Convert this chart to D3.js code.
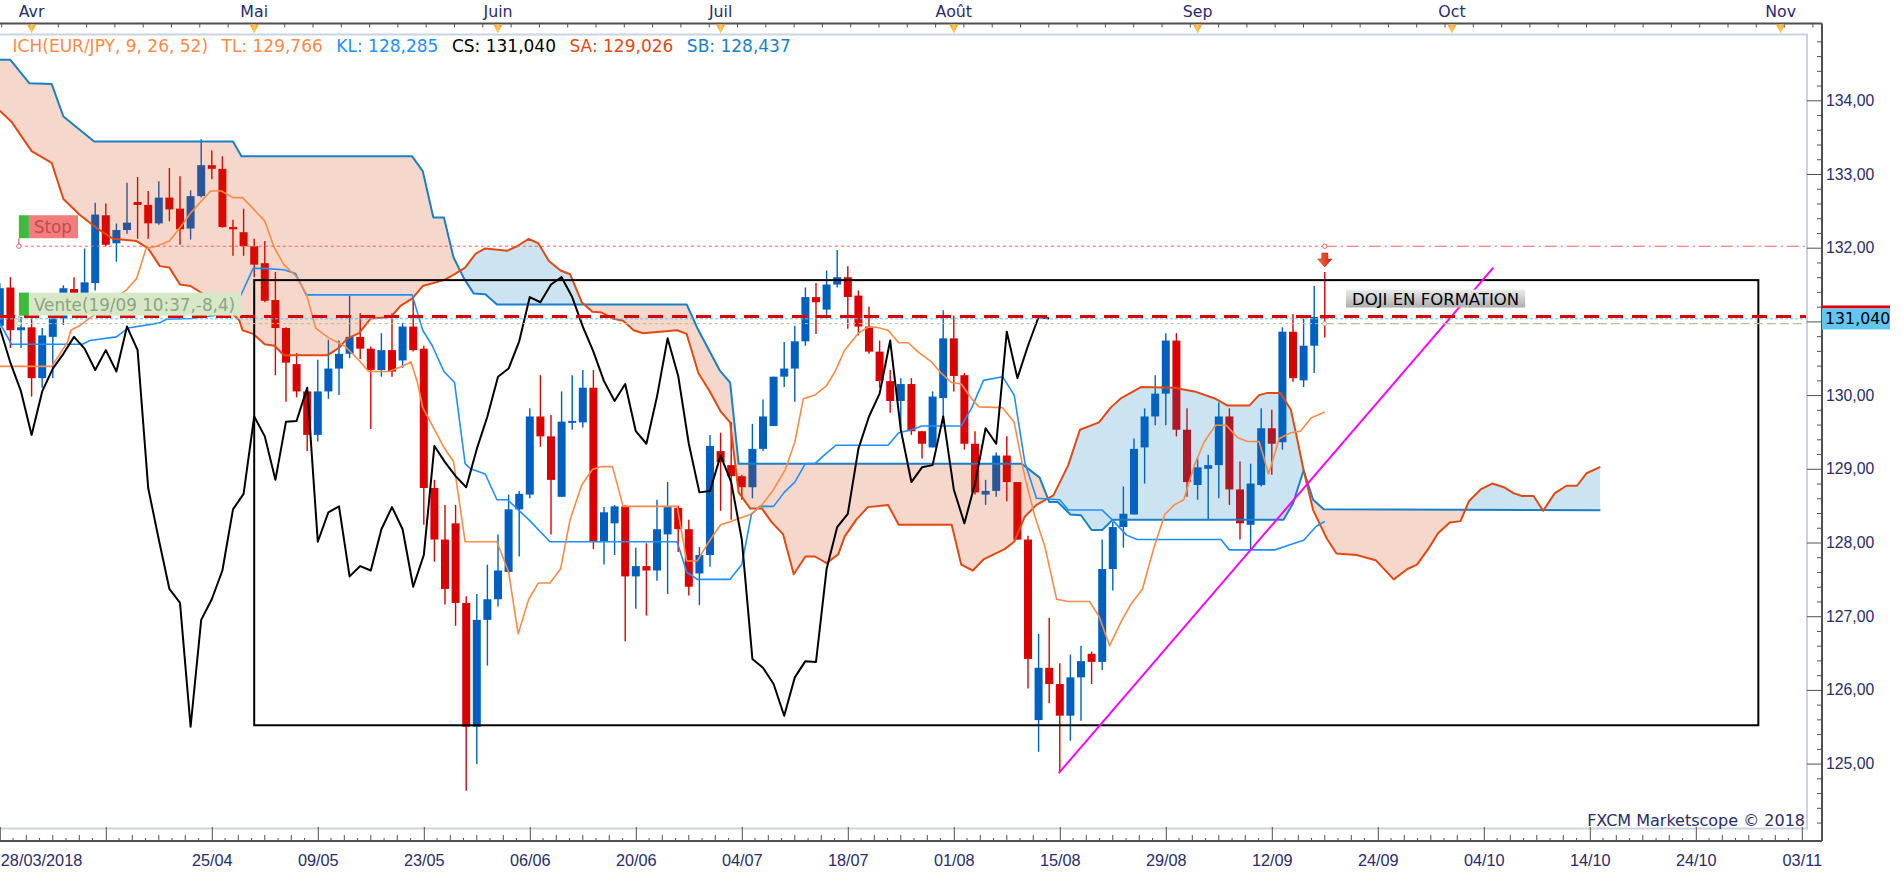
<!DOCTYPE html>
<html>
<head>
<meta charset="utf-8">
<script src="https://cdn.jsdelivr.net/npm/d3@7"></script>
<style>
  body { margin: 0; background: #fff; }
  svg { display: block; font-family: 'DejaVu Sans', Verdana, sans-serif; }
</style>
</head>
<body>
<div id="chart"></div>
<script>
// daily EUR/JPY candles, 28/03/2018 -> 19/09/2018 (bar index 0..125)
let opens = [130.94,131.46,130.88,130.92,130.23,130.79,131.04,131.44,131.30,131.52,
  132.44,132.06,132.24,132.62,132.58,132.33,132.68,132.53,132.26,132.70,
  133.12,133.07,132.28,132.21,132.02,131.79,131.29,130.91,130.42,130.05,
  129.46,130.05,130.36,130.56,130.79,130.63,130.34,130.61,130.47,130.93,
  130.63,128.74,128.04,128.26,127.18,125.50,126.95,127.23,127.60,128.45,
  128.65,129.71,129.44,128.62,129.64,129.63,130.10,128.01,128.26,128.49,
  127.54,127.68,127.62,128.11,128.47,128.18,127.58,127.83,129.24,129.05,
  128.90,128.75,129.27,129.58,130.25,130.36,130.73,131.33,131.16,131.50,
  131.60,131.35,130.93,130.59,130.19,129.92,130.15,129.51,129.29,129.96,
  130.77,130.27,129.34,128.65,128.70,129.18,128.82,128.04,125.59,126.30,
  126.08,125.65,126.17,126.49,126.38,127.64,128.21,128.38,129.29,129.71,
  130.02,130.74,129.53,128.78,129.00,129.05,129.71,128.72,128.24,128.78,
  129.55,129.36,130.86,130.20,130.67,131.07];
let highs = [131.52,131.60,131.06,131.04,130.91,131.15,131.49,131.60,131.99,132.61,
  132.60,132.33,132.88,132.96,132.77,132.90,133.08,132.97,132.78,133.47,
  133.32,133.24,132.38,132.53,132.12,132.09,131.67,130.92,130.57,130.11,
  130.48,130.75,130.74,131.35,131.11,130.66,130.84,131.11,130.98,131.31,
  130.67,128.85,128.51,128.51,127.27,127.30,127.70,128.11,128.65,128.70,
  129.82,130.27,129.73,130.05,130.27,130.34,130.34,128.48,128.51,128.51,
  127.93,127.99,128.58,128.82,128.50,128.31,127.94,129.46,129.49,129.63,
  128.92,129.61,129.94,130.25,130.72,130.94,131.46,131.52,131.69,131.97,
  131.75,131.42,131.20,130.74,130.34,130.23,130.23,129.51,130.05,131.15,
  131.08,130.30,129.51,128.85,129.22,129.44,128.82,128.09,126.76,126.98,
  126.36,126.48,126.60,126.52,128.04,128.28,128.76,129.41,129.82,130.27,
  130.84,130.84,129.82,129.14,129.19,129.90,129.82,129.10,129.07,129.82,
  129.80,130.92,131.10,131.04,131.48,131.67];
let lows = [130.85,130.64,130.64,129.98,130.10,130.23,130.95,131.15,131.20,131.42,
  132.02,131.81,132.19,132.12,132.12,132.31,132.36,132.04,132.11,132.68,
  132.93,132.27,131.89,131.89,131.60,131.26,130.27,129.91,129.97,129.24,
  129.37,129.95,130.00,130.50,130.49,129.54,130.25,130.25,130.37,130.59,
  128.24,127.74,127.16,126.87,124.63,124.99,126.33,127.13,127.59,127.81,
  128.60,129.30,128.11,128.62,129.53,129.56,127.91,127.70,127.83,126.66,
  127.10,127.01,127.48,127.30,127.87,127.28,127.15,127.67,128.43,128.31,
  128.58,128.60,129.24,129.58,130.11,129.91,130.67,130.83,131.08,131.46,
  130.90,130.81,130.56,130.10,129.76,129.56,129.46,129.14,129.29,129.70,
  130.05,129.26,128.65,128.51,128.62,128.56,128.04,126.02,125.16,125.82,
  124.89,125.31,125.58,126.08,126.27,127.35,127.93,128.38,128.80,129.59,
  129.59,129.44,128.62,128.58,128.31,128.60,128.51,128.04,127.91,128.76,
  128.92,129.26,130.18,130.11,130.30,130.78];
let closes = [131.45,130.88,130.92,130.23,130.81,131.04,131.45,131.30,131.53,132.45,
  132.04,132.24,132.34,132.58,132.33,132.68,132.52,132.25,132.70,133.12,
  133.07,132.28,132.25,132.02,131.77,131.28,130.91,130.44,130.05,129.46,
  130.05,130.36,130.56,130.79,130.63,130.34,130.61,130.32,130.93,130.61,
  128.74,128.04,127.37,127.18,125.50,126.95,127.23,127.62,128.45,128.66,
  129.71,129.44,128.85,129.64,129.65,130.10,128.01,128.41,128.49,127.54,
  127.68,127.62,128.18,128.48,128.18,127.40,127.83,129.31,129.09,128.90,
  128.75,129.27,129.71,130.25,130.36,130.73,131.33,131.26,131.50,131.60,
  131.33,130.93,130.59,130.19,129.92,130.15,129.51,129.34,129.98,130.77,
  130.26,129.34,128.68,128.70,129.18,128.82,128.04,126.42,126.30,126.08,
  125.65,126.17,126.39,126.38,127.64,128.21,128.39,129.27,129.71,130.02,
  130.74,129.53,128.82,129.02,129.05,129.71,128.72,128.26,128.80,129.55,
  129.34,130.86,130.23,130.67,131.06,131.04];

// ichimoku lines as [bar index, price] vertices
let tenkan = [[0,130.39],[4.9,130.39],[6.4,130.72],[6.7,130.88],[7.5,130.94],[9.1,131.11],[10.4,131.28],
  [11.9,131.42],[12.9,131.58],[13.8,131.99],[14.8,132.02],[16,132.09],[17.1,132.29],[18,132.47],[19,132.63],
  [19.9,132.77],[20.9,132.77],[22,132.68],[22.9,132.68],[23.9,132.53],[25,132.36],[25.9,132.0],[26.8,131.77],
  [27.9,131.62],[28.9,131.38],[29.8,130.91],[31,130.78],[32.6,130.66],[33.9,130.47],[34.8,130.32],[36.7,130.32],
  [37.8,130.38],[38.8,130.45],[39.4,130.17],[39.9,129.83],[40.8,129.59],[41.9,129.29],[42.8,129.10],[43.9,128.01],
  [46.9,128.01],[48,127.60],[48.9,126.76],[49.9,127.23],[50.8,127.45],[51.9,127.45],[52.9,127.64],[53.8,128.31],
  [54.9,128.78],[55.9,128.99],[56.8,129.03],[57.8,129.03],[58.8,128.49],[63.9,128.49],[64.8,127.75],[65.8,127.75],
  [66.9,128.01],[68,128.24],[68.9,128.28],[69.8,128.33],[70.8,128.38],[71.9,128.51],[73,128.72],[74.1,128.99],
  [75,129.36],[75.8,129.95],[76.9,130.0],[78,130.13],[78.8,130.32],[79.7,130.61],[81,130.84],[81.9,130.92],
  [82.7,130.92],[83.8,130.88],[84.8,130.71],[85.7,130.71],[86.6,130.59],[87.9,130.45],[88.8,130.30],[89.8,130.17],
  [90.7,130.15],[91.8,129.93],[92.4,129.84],[94.6,129.83],[95.7,129.63],[96.7,128.89],[97.6,128.38],[98.6,127.94],
  [99.7,127.23],[100.8,127.20],[102.8,127.20],[103.7,127.0],[104.7,126.60],[105.8,126.93],[106.7,127.16],
  [107.8,127.37],[108.9,127.94],[109.9,128.38],[110.8,128.51],[111.7,128.58],[112.7,129.05],[113.6,129.36],
  [114.7,129.59],[115.7,129.59],[116.8,129.42],[117.7,129.37],[118.8,129.37],[119.7,128.93],[120.7,129.41],
  [121.8,129.49],[122.7,129.51],[123.7,129.69],[125,129.77]];
let kijun = [[0,130.98],[1.1,130.69],[7.8,130.69],[8.5,130.74],[11,130.79],[12.1,130.91],[15.1,130.98],
  [15.7,131.03],[18,131.04],[22,131.11],[22.6,131.31],[23.9,131.72],[24.8,131.72],[26.8,131.70],[27.9,131.65],
  [28.9,131.36],[38.9,131.36],[39.9,130.88],[40.8,130.67],[41.9,130.32],[42.9,130.17],[43.9,129.07],[44.4,129.0],
  [45.8,128.93],[46.9,128.58],[47.9,128.58],[49.9,128.31],[51.9,128.01],[63.9,128.01],[64.8,127.60],[65.8,127.50],
  [68.9,127.50],[70,127.70],[70.9,128.38],[71.7,128.49],[73,128.49],[74,128.68],[75,128.82],[76,129.07],
  [76.9,129.07],[77.8,129.19],[78.9,129.32],[83.8,129.32],[84.8,129.49],[86,129.53],[87,129.58],[90.7,129.58],
  [91.7,129.83],[92.8,130.20],[94.6,130.25],[95.7,130.0],[96.7,129.09],[97.8,128.60],[100,128.58],[100.8,128.44],
  [104,128.44],[105,128.30],[106.3,128.10],[107.3,128.04],[115.2,128.04],[116,127.90],[120.3,127.90],
  [121.5,127.96],[123,128.03],[124.2,128.22],[125,128.285]];
let senkouA = [[0,133.86],[1.1,133.71],[3,133.31],[4.9,133.15],[6,132.66],[7.5,132.45],[9.1,132.27],
  [10.7,132.12],[12.9,132.09],[14,131.99],[15.1,131.75],[16,131.73],[17,131.50],[18,131.48],[20,131.3],
  [22,131.1],[22.6,131.01],[22.9,130.88],[23.9,130.83],[25,130.69],[25.9,130.67],[26.8,130.54],[30.9,130.54],
  [32,130.64],[32.8,130.77],[33.9,130.84],[35,131.04],[36.9,131.06],[37.8,131.21],[38.9,131.31],[39.9,131.48],
  [41.9,131.56],[42.8,131.63],[43.9,131.73],[44.9,131.92],[45.8,131.99],[47.9,131.96],[48.8,132.02],
  [49.9,132.12],[50.8,132.06],[51.8,131.82],[52.9,131.69],[53.8,131.64],[54.9,131.26],[55.9,131.13],
  [56.8,131.12],[57.8,131.04],[58.8,131.01],[59.8,130.88],[60.7,130.84],[63.9,130.88],[64.8,130.83],
  [65.9,130.30],[66.9,130.07],[68,129.78],[68.9,129.63],[69.7,128.68],[70.8,128.46],[71.9,128.46],
  [72.8,128.28],[73.9,128.11],[74.9,127.57],[76,127.81],[76.9,127.81],[78,127.72],[79.1,127.84],[79.7,128.08],
  [80.8,128.31],[81.9,128.48],[83.8,128.51],[84.8,128.24],[89.8,128.24],[90.7,127.70],[91.8,127.62],
  [92.8,127.77],[94.8,127.91],[95.7,128.01],[96.7,128.35],[97.8,128.51],[99.4,128.64],[100.8,129.05],
  [101.9,129.53],[103.7,129.63],[104.8,129.83],[105.8,129.96],[107.7,130.11],[110.8,130.10],[112.7,130.05],
  [114.7,129.95],[115.8,129.86],[117.9,129.86],[118.8,130.0],[119.6,130.03],[120.8,130.03],[121.8,129.80],
  [122.4,129.40],[123,128.98],[123.9,128.44],[125.2,128.05],[126.1,127.85],[128,127.83],[129.8,127.76],
  [131.5,127.50],[132.8,127.64],[133.7,127.70],[134.8,127.92],[135.7,128.13],[136.8,128.27],[137.8,128.29],
  [138.6,128.56],[139.7,128.72],[140.8,128.80],[141.9,128.75],[142.8,128.67],[143.6,128.63],[144.7,128.63],
  [145.6,128.43],[146.7,128.67],[147.8,128.77],[148.8,128.77],[149.7,128.94],[151,129.026]];
let senkouB = [[0,134.55],[1,134.55],[2.8,134.23],[4.9,134.22],[6,133.78],[8.9,133.44],[22,133.44],
  [22.8,133.24],[38.9,133.24],[39.9,133.04],[40.9,132.41],[41.9,132.41],[42.8,131.87],[43.8,131.58],
  [44.7,131.38],[45.8,131.37],[46.9,131.23],[64.8,131.23],[65.8,130.91],[66.8,130.64],[67.9,130.34],
  [68.9,130.17],[69.7,129.07],[96.4,129.07],[98.1,128.88],[99,128.55],[99.8,128.55],[101,128.38],[102,128.37],
  [103,128.17],[104,128.17],[105,128.31],[121.1,128.31],[122,128.53],[123,128.98],[123.9,128.58],
  [124.9,128.45],[151,128.437]];
let chikouShift = 26;

// header values
let headerTitle = 'ICH(EUR/JPY, 9, 26, 52)';
let headerNames = ['TL', 'KL', 'CS', 'SA', 'SB'];
let headerValues = [129.766, 128.285, 131.040, 129.026, 128.437];

// axes
let yTicks = [125, 126, 127, 128, 129, 130, 131, 132, 133, 134];
let dateIdx = [0, 10, 20, 30, 40, 50, 60, 70, 80, 90, 100, 110, 120, 130, 140, 150, 160, 170];
let dateLabels = ['28/03/2018', '', '25/04', '09/05', '23/05', '06/06', '20/06', '04/07', '18/07',
  '01/08', '15/08', '29/08', '12/09', '24/09', '04/10', '14/10', '24/10', '03/11'];
let monthIdx = [3, 24, 47, 68, 90, 113, 137, 168];
let monthLabels = ['Avr', 'Mai', 'Juin', 'Juil', 'Août', 'Sep', 'Oct', 'Nov'];

// drawings and orders
let boxIdx = [24, 165.9];
let boxPrice = [131.56, 125.52];
let trendIdx = [99.9, 140.9];
let trendPrice = [124.87, 131.73];
let orderIdx = [1.8, 125];
let stopPrice = 132.02;
let ventePrice = 130.97;
let bidPrice = 131.065;
let askPrice = 131.035;
let stopText = 'Stop';
let venteText = 'Vente(19/09 10:37,-8,4)';
let dojiText = 'DOJI EN FORMATION';
let dojiAt = [127, 131.31];
let lastPrice = 131.040;

let chart_width = 1903;
let chart_height = 874;
let plot = { left: 0, right: 1807, top: 34.5, bottom: 828.5 };
let axis_right = 1822;
let axis_top = 23.5;
let axis_bottom = 841;
let navy = '#2a2c6c';

let svg = d3
  .select('#chart')
  .append('svg')
  .attr('width', chart_width)
  .attr('height', chart_height);

let x_scale = d3.scaleLinear().domain([0, 170]).range([-0.2, 1801.8]);
let y_scale = d3.scaleLinear().domain([125, 134]).range([763.6, 100.3]);

let defs = svg.append('defs');
defs
  .append('clipPath')
  .attr('id', 'plot-clip')
  .append('rect')
  .attr('x', plot.left)
  .attr('y', plot.top)
  .attr('width', plot.right - plot.left)
  .attr('height', plot.bottom - plot.top);

//cloud clip shapes: half planes above / below each senkou line
let toPts = arr => arr.map(d => [x_scale(d[0]), y_scale(d[1])]);
function addClip(id, pts, edge) {
  let poly = pts.concat([[pts[pts.length - 1][0], edge], [pts[0][0], edge]]);
  defs
    .append('clipPath')
    .attr('id', id)
    .append('path')
    .attr('d', d3.line()(poly) + 'Z');
}
addClip('above-a', toPts(senkouA), 0);
addClip('below-a', toPts(senkouA), chart_height);
addClip('above-b', toPts(senkouB), 0);
addClip('below-b', toPts(senkouB), chart_height);

let grad = defs.append('linearGradient').attr('id', 'doji-grad').attr('x1', 0).attr('y1', 0).attr('x2', 0).attr('y2', 1);
grad.append('stop').attr('offset', '0%').attr('stop-color', '#ececec');
grad.append('stop').attr('offset', '100%').attr('stop-color', '#aeaeae');
let tri = defs.append('linearGradient').attr('id', 'tri-grad').attr('x1', 0).attr('y1', 0).attr('x2', 1).attr('y2', 0);
tri.append('stop').attr('offset', '0%').attr('stop-color', '#f39a10');
tri.append('stop').attr('offset', '50%').attr('stop-color', '#ffc860');
tri.append('stop').attr('offset', '100%').attr('stop-color', '#f39a10');
let arr = defs.append('linearGradient').attr('id', 'arrow-grad').attr('x1', 0).attr('y1', 0).attr('x2', 1).attr('y2', 0);
arr.append('stop').attr('offset', '0%').attr('stop-color', '#f07050');
arr.append('stop').attr('offset', '100%').attr('stop-color', '#d82000');

let area = svg.append('g').attr('clip-path', 'url(#plot-clip)');

//candles
let candles = d3.range(closes.length).map(i => {
  return { i: i, o: opens[i], h: highs[i], l: lows[i], c: closes[i] };
});
let candleColor = d => (d.c >= d.o ? '#0060c0' : '#dc0000');

area
  .append('g')
  .selectAll('line')
  .data(candles)
  .enter()
  .append('line')
  .attr('x1', d => x_scale(d.i))
  .attr('x2', d => x_scale(d.i))
  .attr('y1', d => y_scale(d.h))
  .attr('y2', d => y_scale(d.l))
  .attr('stroke', candleColor)
  .attr('stroke-width', 1.4);

area
  .append('g')
  .selectAll('rect')
  .data(candles)
  .enter()
  .append('rect')
  .attr('x', d => x_scale(d.i) - 4)
  .attr('width', 8)
  .attr('y', d => y_scale(Math.max(d.o, d.c)))
  .attr('height', d => Math.max(2, Math.abs(y_scale(d.o) - y_scale(d.c))))
  .attr('fill', candleColor);

//cloud, drawn translucent over the candles
let cloud = area.append('g');
cloud
  .append('g')
  .attr('clip-path', 'url(#above-a)')
  .append('rect')
  .attr('clip-path', 'url(#below-b)')
  .attr('width', chart_width)
  .attr('height', chart_height)
  .attr('fill', '#cd3700')
  .attr('fill-opacity', 0.2);
cloud
  .append('g')
  .attr('clip-path', 'url(#below-a)')
  .append('rect')
  .attr('clip-path', 'url(#above-b)')
  .attr('width', chart_width)
  .attr('height', chart_height)
  .attr('fill', '#0078b9')
  .attr('fill-opacity', 0.2);

let line = d3
  .line()
  .x(d => x_scale(d[0]))
  .y(d => y_scale(d[1]));

let chikou = closes.slice(chikouShift).map((c, k) => [k, c]);

let series = [
  { data: senkouB, color: '#1a80c4', width: 2 },
  { data: senkouA, color: '#e04a12', width: 2 },
  { data: kijun, color: '#1e8fff', width: 1.6 },
  { data: tenkan, color: '#ff8a45', width: 1.6 },
  { data: chikou, color: '#000000', width: 2 }
];
area
  .append('g')
  .selectAll('path')
  .data(series)
  .enter()
  .append('path')
  .attr('d', d => line(d.data))
  .attr('fill', 'none')
  .attr('stroke', d => d.color)
  .attr('stroke-width', d => d.width)
  .attr('stroke-linejoin', 'round');

//drawings: range box and trend line
area
  .append('rect')
  .attr('x', x_scale(boxIdx[0]))
  .attr('y', y_scale(boxPrice[0]))
  .attr('width', x_scale(boxIdx[1]) - x_scale(boxIdx[0]))
  .attr('height', y_scale(boxPrice[1]) - y_scale(boxPrice[0]))
  .attr('fill', 'none')
  .attr('stroke', '#000')
  .attr('stroke-width', 2);

area
  .append('line')
  .attr('x1', x_scale(trendIdx[0]))
  .attr('y1', y_scale(trendPrice[0]))
  .attr('x2', x_scale(trendIdx[1]))
  .attr('y2', y_scale(trendPrice[1]))
  .attr('stroke', '#ff00ff')
  .attr('stroke-width', 2);

//order lines
function hline(price, x1, x2, color, width, dash) {
  area
    .append('line')
    .attr('x1', x1)
    .attr('x2', x2)
    .attr('y1', y_scale(price))
    .attr('y2', y_scale(price))
    .attr('stroke', color)
    .attr('stroke-width', width)
    .attr('stroke-dasharray', dash);
}
let xo0 = x_scale(orderIdx[0]);
let xo1 = x_scale(orderIdx[1]);
hline(stopPrice, xo0, xo1, '#f06060', 1, '3,3');
hline(stopPrice, xo1, plot.right, '#f06060', 1, '12,4,2,4');
hline(ventePrice, xo0, xo1, '#a8c890', 1, '3,3');
hline(ventePrice, xo1, plot.right, '#a8c890', 1.2, '9,4');
hline(askPrice, 0, plot.right, '#5bc0f0', 1, '3,2');
hline(bidPrice, 0, plot.right, '#e00000', 3, '15,9');

[stopPrice, ventePrice].forEach((p, k) => {
  [xo0, xo1].forEach(xx => {
    area
      .append('circle')
      .attr('cx', xx)
      .attr('cy', y_scale(p))
      .attr('r', 2.2)
      .attr('fill', '#fff')
      .attr('stroke', k === 0 ? '#f06060' : '#a8c890');
  });
});

//order tags on the left
function tag(price, text, bg, fg) {
  let yb = y_scale(price) - 8;
  let g = area.append('g');
  g.append('line')
    .attr('x1', xo0)
    .attr('x2', xo0)
    .attr('y1', yb)
    .attr('y2', y_scale(price) - 2)
    .attr('stroke', fg);
  let t = g
    .append('text')
    .attr('x', xo0 + 15)
    .attr('y', yb - 5)
    .attr('font-size', 16.8)
    .attr('fill', fg)
    .text(text);
  let len = t.node().getComputedTextLength();
  g.insert('rect', 'text')
    .attr('x', xo0 + 10)
    .attr('y', yb - 23)
    .attr('width', len + 11)
    .attr('height', 23)
    .attr('fill', bg);
  g.insert('rect', 'text')
    .attr('x', xo0)
    .attr('y', yb - 23)
    .attr('width', 10)
    .attr('height', 23)
    .attr('fill', '#3cbc3c');
}
tag(stopPrice, stopText, '#f27d7d', '#c84848');
tag(ventePrice, venteText, '#d7e8c9', '#8fa27f');

//doji note and arrow
let dg = area.append('g');
let dt = dg
  .append('text')
  .attr('x', x_scale(dojiAt[0]) + 6)
  .attr('y', y_scale(dojiAt[1]) + 6)
  .attr('font-size', 16.5)
  .attr('fill', '#000')
  .text(dojiText);
dg.insert('rect', 'text')
  .attr('x', x_scale(dojiAt[0]))
  .attr('y', y_scale(dojiAt[1]) - 9)
  .attr('width', dt.node().getComputedTextLength() + 12)
  .attr('height', 18)
  .attr('fill', 'url(#doji-grad)');

let ax = x_scale(closes.length - 1);
let ay = y_scale(highs[highs.length - 1]) - 5;
area
  .append('path')
  .attr('d', `M${ax - 3},${ay - 14}h6v6h4l-7,8l-7,-8h4z`)
  .attr('fill', 'url(#arrow-grad)')
  .attr('stroke', '#c01800')
  .attr('stroke-width', 0.6);

//plot frame
svg
  .append('rect')
  .attr('x', plot.left - 1)
  .attr('y', plot.top)
  .attr('width', plot.right - plot.left + 1)
  .attr('height', plot.bottom - plot.top)
  .attr('fill', 'none')
  .attr('stroke', '#c9d4df')
  .attr('stroke-width', 2);

//axis lines
let axisColor = '#505050';
svg.append('line').attr('x1', 0).attr('x2', axis_right).attr('y1', axis_top).attr('y2', axis_top)
  .attr('stroke', axisColor).attr('stroke-width', 2);
svg.append('line').attr('x1', 0).attr('x2', axis_right).attr('y1', axis_bottom).attr('y2', axis_bottom)
  .attr('stroke', axisColor).attr('stroke-width', 2);
svg.append('line').attr('x1', axis_right).attr('x2', axis_right).attr('y1', axis_top).attr('y2', axis_bottom)
  .attr('stroke', axisColor).attr('stroke-width', 2);

//right price axis (the level under the last price tag is hidden by it)
let y_axis = d3
  .axisRight(y_scale)
  .tickValues(yTicks)
  .tickSizeInner(-15)
  .tickSizeOuter(0)
  .tickPadding(4)
  .tickFormat(d => (Math.abs(d - lastPrice) < 0.3 ? '' : d3.format('.2f')(d).replace('.', ',')));
let ya = svg
  .append('g')
  .attr('transform', 'translate(' + axis_right + ',0)')
  .call(y_axis);
ya.select('.domain').remove();
ya.selectAll('line').attr('stroke', axisColor);
ya.selectAll('text').attr('font-size', 15.8).attr('font-family', null).attr('fill', navy);

let minor = d3.range(124.2, 134.9, 0.2).filter(v => Math.abs(v - Math.round(v)) > 0.05);
let y_minor = d3
  .axisRight(y_scale)
  .tickValues(minor)
  .tickSizeInner(-5)
  .tickSizeOuter(0)
  .tickFormat('');
let ym = svg
  .append('g')
  .attr('transform', 'translate(' + axis_right + ',0)')
  .call(y_minor);
ym.select('.domain').remove();
ym.selectAll('line').attr('stroke', axisColor);

//bottom date axis
let x_axis = d3
  .axisBottom(x_scale)
  .tickValues(dateIdx)
  .tickSizeInner(-14)
  .tickSizeOuter(0)
  .tickPadding(13)
  .tickFormat((d, k) => dateLabels[k]);
let xa = svg
  .append('g')
  .attr('transform', 'translate(0,' + axis_bottom + ')')
  .call(x_axis);
xa.select('.domain').remove();
xa.selectAll('line').attr('stroke', axisColor);
xa.selectAll('text').attr('font-size', 16.3).attr('font-family', null).attr('fill', navy);
xa.select('.tick text').attr('text-anchor', 'start').attr('x', 0.5);

let xMinor = [];
dateIdx.slice(0, -1).forEach(d => {
  d3.range(1, 8).forEach(k => xMinor.push({ i: d + k * 1.25, tall: k % 2 === 0 }));
});
svg
  .append('g')
  .selectAll('line')
  .data(xMinor)
  .enter()
  .append('line')
  .attr('x1', d => x_scale(d.i))
  .attr('x2', d => x_scale(d.i))
  .attr('y1', d => axis_bottom - (d.tall ? 6 : 3))
  .attr('y2', axis_bottom)
  .attr('stroke', axisColor);

//top month axis
svg
  .append('g')
  .selectAll('line')
  .data(d3.range(1.7, axis_right, 28.3))
  .enter()
  .append('line')
  .attr('x1', d => d)
  .attr('x2', d => d)
  .attr('y1', axis_top)
  .attr('y2', axis_top + 4)
  .attr('stroke', axisColor);

let months = svg.append('g').selectAll('g').data(monthIdx).enter().append('g')
  .attr('transform', d => 'translate(' + x_scale(d) + ',0)');
months
  .append('path')
  .attr('d', 'M-4.5,' + (axis_top + 1) + 'h9l-4.5,9z')
  .attr('fill', 'url(#tri-grad)');
months
  .append('text')
  .attr('y', 17)
  .attr('text-anchor', 'middle')
  .attr('font-size', 15.8)
  .attr('fill', navy)
  .text((d, k) => monthLabels[k]);

//indicator header
let hx = 12.6;
let headerTexts = [headerTitle].concat(
  headerNames.map((n, k) => n + ': ' + d3.format('.3f')(headerValues[k]).replace('.', ','))
);
let headerColors = ['#ff8a45', '#ff8a45', '#1e8fff', '#000000', '#e04a12', '#1a80c4'];
headerTexts.forEach((t, k) => {
  let el = svg
    .append('text')
    .attr('x', hx)
    .attr('y', 52)
    .attr('font-size', 17)
    .attr('fill', headerColors[k])
    .text(t);
  hx += el.node().getComputedTextLength() + 13.5;
});

//last price tag
let ly = y_scale(lastPrice);
svg.append('rect').attr('x', axis_right).attr('y', ly - 13).attr('width', 68).attr('height', 3).attr('fill', '#e00000');
svg.append('rect').attr('x', axis_right).attr('y', ly - 10).attr('width', 68).attr('height', 21).attr('fill', '#62c6f2');
svg
  .append('text')
  .attr('x', axis_right + 3)
  .attr('y', ly + 6)
  .attr('font-size', 15.8)
  .attr('fill', '#000')
  .text(d3.format('.3f')(lastPrice).replace('.', ','));

svg
  .append('text')
  .attr('x', 1805)
  .attr('y', 826)
  .attr('text-anchor', 'end')
  .attr('font-size', 16)
  .attr('fill', navy)
  .text('FXCM Marketscope \u00a9 2018');
</script>
</body>
</html>
